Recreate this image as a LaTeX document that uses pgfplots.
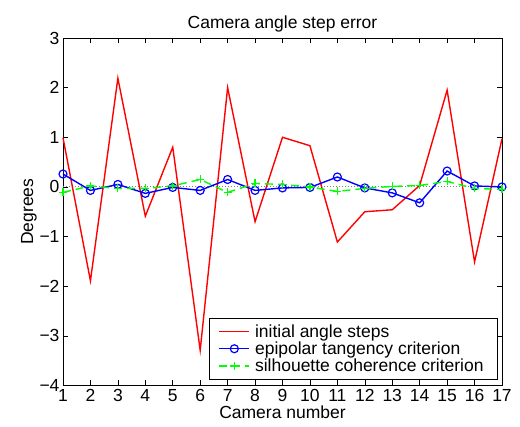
\documentclass[border=0pt]{standalone}
\usepackage{pgfplots}
\pgfplotsset{compat=1.18}
\usepackage{fontspec}
\setmainfont{Liberation Sans}

\begin{document}
\begin{tikzpicture}
\begin{axis}[
  at={(0,0)}, anchor=south west,
  scale only axis,
  width=439pt, height=347.5pt,
  xmin=1, xmax=17, ymin=-4, ymax=3,
  xtick={1,...,17},
  ytick={-4,-3,-2,-1,0,1,2,3},
  yticklabels={−4,−3,−2,−1,0,1,2,3},
  tick align=inside,
  major tick length=5pt,
  tick style={black, line width=0.6pt},
  axis line style={line width=0.9pt},
  font=\fontsize{17.5}{20}\selectfont,
  /pgf/number format/assume math mode=true,
  title={Camera angle step error},
  xlabel={Camera number},
  ylabel={Degrees},
  xlabel style={yshift=2pt},
  ylabel style={yshift=-4pt},
  title style={yshift=-4pt},
  clip=false,
  legend cell align=left,
  legend style={at={(0.991,0.016)}, anchor=south east, draw=black,
    line width=0.8pt, inner xsep=9pt, inner ysep=4.5pt, row sep=-1pt,
    nodes={inner xsep=5pt},
    font=\fontsize{17.5}{20}\selectfont},
  legend image code/.code={
    \draw[mark repeat=2,mark phase=2] plot coordinates {(0pt,0pt) (15pt,0pt) (30pt,0pt)};
  },
]
\addplot[gray, dotted, line width=1pt, forget plot] coordinates {(1,0) (17,0)};

\addplot[red, line width=1.4pt] coordinates {
  (1,0.99) (2,-1.89) (3,2.19) (4,-0.59) (5,0.80) (6,-3.29) (7,2.00) (8,-0.70)
  (9,1.00) (10,0.83) (11,-1.11) (12,-0.50) (13,-0.46) (14,0.03) (15,1.95)
  (16,-1.51) (17,0.97)
};
\addlegendentry{initial angle steps}

\addplot[blue, line width=1.4pt, mark=o, mark size=4pt, mark options={line width=1.2pt}] coordinates {
  (1,0.26) (2,-0.07) (3,0.05) (4,-0.13) (5,-0.01) (6,-0.07) (7,0.15) (8,-0.07)
  (9,-0.02) (10,-0.01) (11,0.20) (12,-0.02) (13,-0.12) (14,-0.32) (15,0.32)
  (16,0.02) (17,0.00)
};
\addlegendentry{epipolar tangency criterion}

\addplot[green, line width=1.4pt, dash pattern=on 8pt off 5pt, mark=+, mark size=4pt,
  mark options={solid, line width=1.2pt}] coordinates {
  (1,-0.11) (2,0.02) (3,-0.03) (4,-0.03) (5,0.02) (6,0.15) (7,-0.11) (8,0.07)
  (9,0.05) (10,0.00) (11,-0.09) (12,-0.03) (13,0.01) (14,0.03) (15,0.11)
  (16,-0.03) (17,-0.05)
};
\addlegendentry{silhouette coherence criterion}
\end{axis}
\path[use as bounding box] (-63pt,-41.5pt) rectangle (457pt,385.5pt);
\end{tikzpicture}
\end{document}
